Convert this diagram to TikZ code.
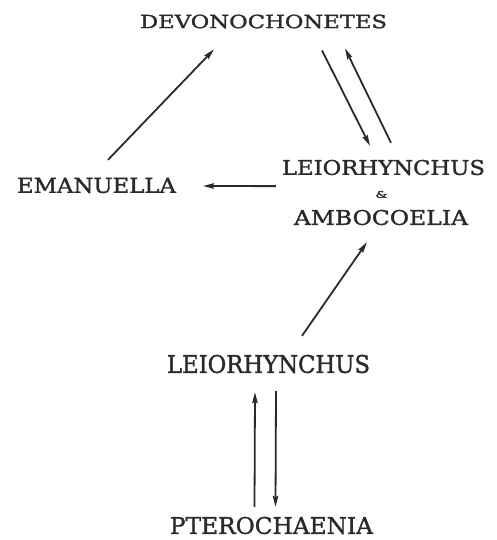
\documentclass[tikz,border=0pt]{standalone}
\usepackage{fontspec}
\setmainfont{DejaVu Serif}[FakeBold=1.4]
\usetikzlibrary{arrows.meta,calc}
\definecolor{ink}{HTML}{2A2A2A}
\newcommand{\lbl}[3]{\resizebox{#1pt}{#2pt}{#3}}
\begin{document}
\begin{tikzpicture}[x=1pt,y=-1pt,
  taxon/.style={inner sep=0pt,outer sep=0pt,text=ink,anchor=center},
  arr/.style={draw=ink,line width=1.8pt,-{Stealth[length=11pt,width=5.5pt,inset=1.5pt]}}]
\useasboundingbox (0,0) rectangle (497,540);
\node[taxon] (dev) at (263.5,21.5) {\lbl{247}{13.5}{DEVONOCHONETES}};
\node[taxon] (ema) at (96.5,185.5) {\lbl{159}{15}{EMANUELLA}};
\node[taxon] (leio1) at (383.5,167.5) {\lbl{203}{15}{LEIORHYNCHUS}};
\node[taxon] (amp) at (381.5,194.5) {\lbl{12}{7}{\&}};
\node[taxon] (amb) at (381,217.5) {\lbl{174}{15}{AMBOCOELIA}};
\node[taxon] (leio2) at (268.5,364) {\lbl{203}{18}{LEIORHYNCHUS}};
\node[taxon] (ptero) at (271.5,525.5) {\lbl{203}{17}{PTEROCHAENIA}};
\draw[arr] ($(ema.north)+(11.5,-18)$) -- ($(dev.south)+(-49.5,21)$);
\draw[arr] ($(dev.south)+(58.5,22)$) -- ($(leio1.north)+(-13.5,-14)$);
\draw[arr] ($(leio1.north)+(7.5,-17)$) -- ($(dev.south)+(81.5,20)$);
\draw[arr] ($(leio1.south west)+(-6,11)$) -- ($(ema.east)+(27,0.5)$);
\draw[arr] ($(leio2.north)+(33.5,-19)$) -- ($(amb.south)+(-14,17)$);
\draw[arr] ($(ptero.north)+(-17,-10)$) -- ($(leio2.south)+(-13.5,19)$);
\draw[arr] ($(leio2.south)+(7.5,18)$) -- ($(ptero.north)+(4,-10)$);
\end{tikzpicture}
\end{document}
